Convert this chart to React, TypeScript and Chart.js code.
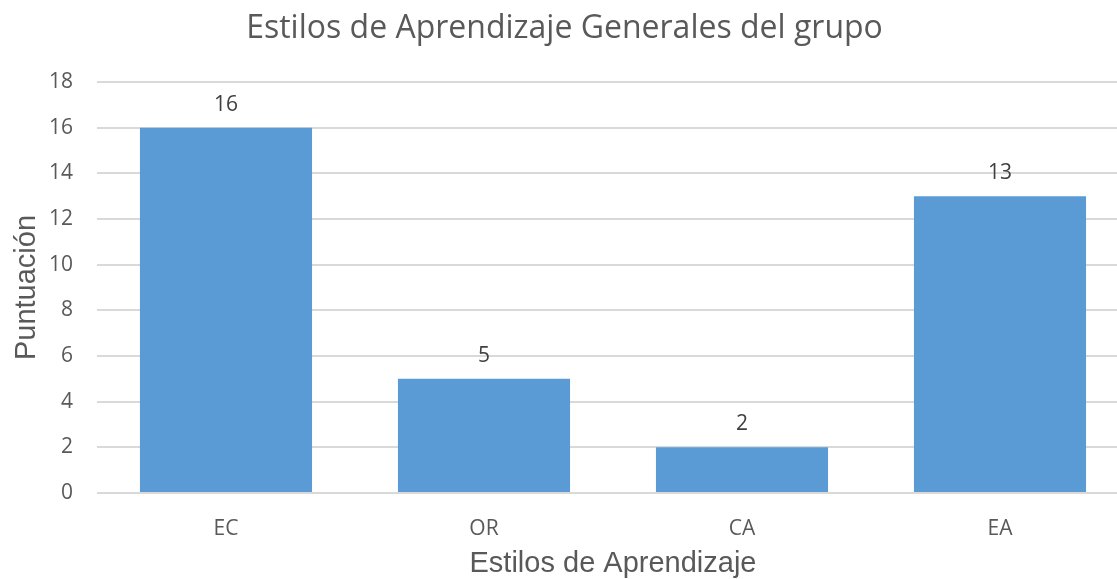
import React, { useEffect, useRef } from "react";
import { Chart, registerables } from "chart.js";

Chart.register(...registerables);

const categories = ["EC", "OR", "CA", "EA"];
const scores = [16, 5, 2, 13];
const yTicks = [0, 2, 4, 6, 8, 10, 12, 14, 16, 18];

const chartTitle = "Estilos de Aprendizaje Generales del grupo";
const xTitle = "Estilos de Aprendizaje";
const yTitle = "Puntuación";

const TEXT = "#595959";
const LABEL = "#404040";
const BAR = "#5B9BD5";
const GRID = "#D9D9D9";
const UI_FONT = "'Open Sans', 'Noto Sans', sans-serif";
const AX_FONT = "'Liberation Sans', Arial, sans-serif";

const dataLabels = {
  id: "dataLabels",
  afterDatasetsDraw(chart: any) {
    const ctx = chart.ctx;
    const meta = chart.getDatasetMeta(0);
    ctx.save();
    ctx.fillStyle = LABEL;
    ctx.font = `21px ${UI_FONT}`;
    ctx.textAlign = "center";
    ctx.textBaseline = "alphabetic";
    meta.data.forEach((bar: any, i: number) => {
      const v = chart.data.datasets[0].data[i];
      ctx.fillText(String(v), bar.x, bar.y - 17);
    });
    ctx.restore();
  },
};

export default function App() {
  const ref = useRef<HTMLCanvasElement | null>(null);
  useEffect(() => {
    document.body.style.overflow = "hidden";
    const canvas = ref.current!;
    const chart = new Chart(canvas, {
      type: "bar",
      data: {
        labels: categories,
        datasets: [
          {
            data: scores,
            backgroundColor: BAR,
            borderWidth: 0,
            barPercentage: 0.667,
            categoryPercentage: 1,
          },
        ],
      },
      options: {
        responsive: false,
        animation: false,
        devicePixelRatio: 1,
        layout: { padding: { left: 0, right: 11, top: 0, bottom: 0 } },
        plugins: {
          legend: { display: false },
          tooltip: { enabled: false },
          title: {
            display: true,
            text: chartTitle,
            color: TEXT,
            font: { family: UI_FONT, size: 32, weight: "normal", lineHeight: 1.2 },
            padding: { top: 10, bottom: 33.6 },
          },
        },
        scales: {
          x: {
            offset: true,
            grid: { display: false, drawTicks: false },
            border: { display: false },
            ticks: {
              color: TEXT,
              font: { family: UI_FONT, size: 21 },
              padding: 23,
              maxRotation: 0,
            },
            title: {
              display: true,
              text: xTitle,
              color: TEXT,
              font: { family: AX_FONT, size: 29, lineHeight: 1 },
              padding: { top: 0, bottom: 1 },
            },
            afterFit(scale: any) {
              scale.height = 86;
            },
          },
          y: {
            min: 0,
            max: 18,
            afterBuildTicks(scale: any) {
              scale.ticks = yTicks.map((v) => ({ value: v }));
            },
            grid: { color: GRID, lineWidth: 2, drawTicks: false },
            border: { display: false },
            ticks: {
              color: TEXT,
              font: { family: UI_FONT, size: 21 },
              padding: 24,
            },
            title: {
              display: true,
              text: yTitle,
              color: TEXT,
              font: { family: AX_FONT, size: 29, lineHeight: 1 },
              padding: { top: 12, bottom: 0 },
            },
            afterFit(scale: any) {
              scale.width = 97;
            },
          },
        },
      },
      plugins: [dataLabels],
    });
    return () => chart.destroy();
  }, []);
  return (
    <div
      style={{
        position: "fixed",
        left: 0,
        top: 0,
        width: 1117,
        height: 579,
        overflow: "hidden",
        background: "#fff",
      }}
    >
      <canvas ref={ref} width={1140} height={579} style={{ width: 1140, height: 579, display: "block" }} />
    </div>
  );
}
